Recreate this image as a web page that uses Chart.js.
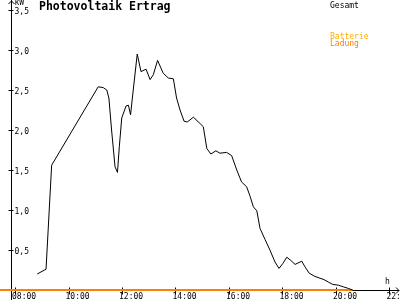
<!DOCTYPE html>
<html>
<head>
<meta charset="utf-8">
<script src="https://cdn.jsdelivr.net/npm/chart.js@4"></script>
<style>
  body { margin: 0; background: #fff; }
  canvas { display: block; }
</style>
</head>
<body>
<canvas id="pvChart" width="400" height="300"></canvas>
<script>
// hours of the day (decimal) and kW for "Gesamt"
const gesamtTime = [8.83, 9.16, 9.37, 11.11, 11.30, 11.43, 11.51, 11.61, 11.74, 11.83, 11.90, 11.99,
  12.15, 12.24, 12.32, 12.42, 12.57, 12.71, 12.90, 13.05, 13.17, 13.33, 13.54, 13.73, 13.92,
  14.04, 14.17, 14.32, 14.44, 14.67, 14.92, 15.04, 15.17, 15.32, 15.51, 15.66, 15.91, 16.10,
  16.29, 16.47, 16.66, 16.79, 16.91, 17.04, 17.16, 17.35, 17.53, 17.72, 17.87, 18.01, 18.16,
  18.31, 18.47, 18.72, 18.84, 19.00, 19.21, 19.55, 19.71, 19.88, 20.09, 20.27, 20.46, 20.62];
const gesamtKW = [0.20, 0.26, 1.56, 2.54, 2.53, 2.50, 2.40, 2.00, 1.54, 1.47, 1.79, 2.15,
  2.30, 2.31, 2.19, 2.50, 2.95, 2.73, 2.76, 2.63, 2.69, 2.87, 2.71, 2.65, 2.64,
  2.40, 2.25, 2.11, 2.10, 2.16, 2.08, 2.04, 1.77, 1.70, 1.74, 1.71, 1.72, 1.68,
  1.50, 1.35, 1.29, 1.17, 1.04, 0.99, 0.77, 0.63, 0.50, 0.35, 0.27, 0.33, 0.41,
  0.37, 0.32, 0.36, 0.29, 0.21, 0.17, 0.13, 0.10, 0.07, 0.06, 0.04, 0.02, 0.00];

// battery charging, flat zero
const ladungTime = [7.3, 20.62];
const ladungKW = [0, 0];

const xTicks = [8, 10, 12, 14, 16, 18, 20, 22];
const xTickLabels = ['08:00', '10:00', '12:00', '14:00', '16:00', '18:00', '20:00', '22:'];
const yTicks = [0.5, 1.0, 1.5, 2.0, 2.5, 3.0, 3.5];
const yTickLabels = ['0,5', '1,0', '1,5', '2,0', '2,5', '3,0', '3,5'];

const small = '8px "DejaVu Sans Mono", monospace';

const axesPlugin = {
  id: 'axes',
  beforeDatasetsDraw(chart) {
    const ctx = chart.ctx;
    const xs = chart.scales.x, ys = chart.scales.y;
    const x0 = Math.round(xs.getPixelForValue(7.85)) + 0.5;
    const y0 = Math.round(ys.getPixelForValue(0)) + 0.5;
    ctx.save();
    ctx.strokeStyle = '#000';
    ctx.lineWidth = 1;
    ctx.beginPath();
    // y axis + arrow
    ctx.moveTo(x0, 300); ctx.lineTo(x0, 0);
    ctx.moveTo(x0 - 3, 4); ctx.lineTo(x0, 1); ctx.lineTo(x0 + 3, 4);
    // x axis + arrow
    ctx.moveTo(0, y0); ctx.lineTo(399, y0);
    ctx.moveTo(396, y0 - 3); ctx.lineTo(399, y0); ctx.lineTo(396, y0 + 3);
    yTicks.forEach(v => {
      const y = Math.round(ys.getPixelForValue(v)) + 0.5;
      ctx.moveTo(x0 - 3, y); ctx.lineTo(x0 + 2, y);
    });
    xTicks.forEach(v => {
      const x = Math.round(xs.getPixelForValue(v)) + 0.5;
      ctx.moveTo(x, y0 - 3); ctx.lineTo(x, y0 + 4);
    });
    ctx.stroke();

    ctx.fillStyle = '#000';
    ctx.font = small;
    ctx.textBaseline = 'alphabetic';
    ctx.textAlign = 'left';
    yTicks.forEach((v, i) => {
      const y = ys.getPixelForValue(v);
      ctx.fillText(yTickLabels[i], x0 + 3, y + 3.5);
    });
    xTicks.forEach((v, i) => {
      const x = xs.getPixelForValue(v);
      ctx.fillText(xTickLabels[i], x - 3, 299);
    });
    ctx.fillText('kW', x0 + 3, 5);
    ctx.fillText('h', 385, 283.5);

    ctx.font = 'bold 11.5px "DejaVu Sans Mono", monospace';
    ctx.fillText('Photovoltaik Ertrag', 39, 10);

    ctx.font = small;
    ctx.fillText(chart.data.datasets[0].label, 330, 7.5);
    ctx.fillStyle = '#ffb000';
    ctx.fillText('Batterie', 330, 38.5);
    ctx.fillStyle = chart.data.datasets[1].borderColor;
    ctx.fillText(chart.data.datasets[1].label, 330, 46);
    ctx.restore();
  }
};

new Chart(document.getElementById('pvChart'), {
  type: 'line',
  data: {
    datasets: [{
      label: 'Gesamt',
      data: gesamtTime.map((t, i) => ({ x: t, y: gesamtKW[i] })),
      borderColor: '#000',
      borderWidth: 1,
      pointRadius: 0,
      tension: 0,
      fill: false
    }, {
      label: 'Ladung',
      data: ladungTime.map((t, i) => ({ x: t, y: ladungKW[i] })),
      borderColor: '#ff8000',
      borderWidth: 2,
      pointRadius: 0,
      fill: false
    }]
  },
  options: {
    responsive: false,
    animation: false,
    layout: { padding: 0 },
    plugins: { legend: { display: false }, tooltip: { enabled: false } },
    scales: {
      x: { type: 'linear', min: 7.439, max: 22.393, display: false },
      y: { min: -0.125, max: 3.625, display: false }
    }
  },
  plugins: [axesPlugin]
});
</script>
</body>
</html>
